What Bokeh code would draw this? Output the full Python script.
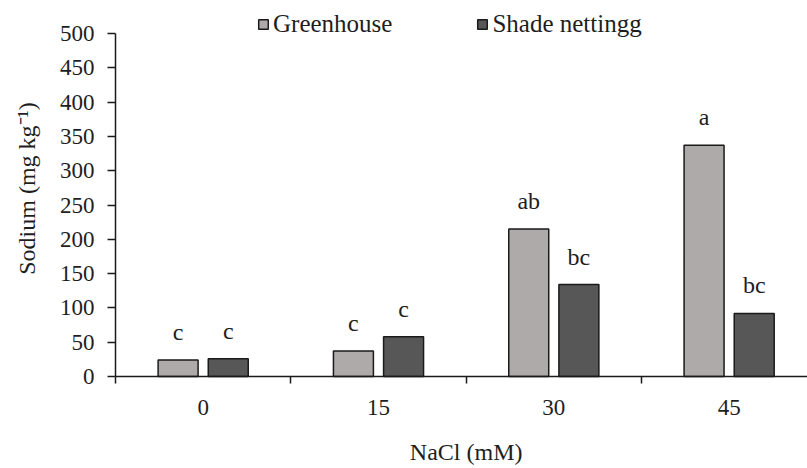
from bokeh.plotting import figure
from bokeh.models import ColumnDataSource, FixedTicker, Range1d, Legend, LegendItem
from bokeh.core.properties import value
from bokeh.embed import file_html
from bokeh.resources import INLINE
import math

categories = ["0", "15", "30", "45"]
greenhouse = [24, 37, 215, 337]
shade = [26, 58, 134, 92]
gh_letters = ["c", "c", "ab", "a"]
sh_letters = ["c", "c", "bc", "bc"]
y_ticks = [0, 50, 100, 150, 200, 250, 300, 350, 400, 450, 500]
x_title = "NaCl (mM)"
y_title = "Sodium (mg kg⁻¹)"

FONT = "Liberation Serif"
TXT = "#1e1e1e"
centers = [i + 0.5 for i in range(len(categories))]
dodge = 0.143
bw = 0.228
# ranges chosen so the axes (fixed at 0) sit where the reference puts them
X0, X1 = -0.656, 3.947
Y0, Y1 = -134.1, 548.1

src = ColumnDataSource(dict(
    xg=[c - dodge for c in centers], xs=[c + dodge for c in centers],
    gh=greenhouse, sh=shade, gl=gh_letters, sl=sh_letters,
))
xlab_src = ColumnDataSource(dict(x=centers, y=[0] * len(centers), t=categories))
ylab_src = ColumnDataSource(dict(x=[0] * len(y_ticks), y=y_ticks, t=[str(v) for v in y_ticks]))
xt_src = ColumnDataSource(dict(x=[len(categories) / 2], y=[0], t=[x_title]))
yt_src = ColumnDataSource(dict(x=[0], y=[Y1 / 2], t=[y_title]))

p = figure(width=807, height=468, output_backend="svg", toolbar_location=None,
           x_range=Range1d(X0, X1), y_range=Range1d(Y0, Y1),
           min_border_left=0, min_border_right=0, min_border_top=0, min_border_bottom=0)
p.outline_line_color = None
p.xgrid.visible = False
p.ygrid.visible = False

r1 = p.vbar(x="xg", top="gh", width=bw, source=src, fill_color="#aeaaa9",
            line_color="#1a1a1a", line_width=1.5)
r2 = p.vbar(x="xs", top="sh", width=bw, source=src, fill_color="#575757",
            line_color="#1a1a1a", line_width=1.5)

for xc, yc, lc in (("xg", "gh", "gl"), ("xs", "sh", "sl")):
    p.text(x=xc, y=yc, text=lc, source=src, text_align="center", text_baseline="alphabetic",
           y_offset=-28, text_font=value(FONT), text_font_size="24px", text_color=TXT)

# x axis (tick marks at category boundaries), fixed at y = 0
xa = p.xaxis[0]
xa.fixed_location = 0
xa.bounds = (0, X1)
xa.ticker = FixedTicker(ticks=centers, minor_ticks=[0, 1, 2, 3])
xa.major_label_text_font_size = "0px"
xa.major_label_text_alpha = 0
xa.major_label_standoff = 0
xa.major_tick_line_color = None
xa.major_tick_out = 0
xa.major_tick_in = 0
xa.minor_tick_in = 0
xa.minor_tick_out = 7
xa.minor_tick_line_color = "#1a1a1a"
xa.minor_tick_line_width = 1.5
xa.axis_line_color = "#1a1a1a"
xa.axis_line_width = 1.5

# y axis fixed at x = 0
ya = p.yaxis[0]
ya.fixed_location = 0
ya.ticker = FixedTicker(ticks=y_ticks, minor_ticks=[])
ya.bounds = (0, 500)
ya.major_label_text_font_size = "0px"
ya.major_label_text_alpha = 0
ya.major_label_standoff = 0
ya.major_tick_in = 0
ya.major_tick_out = 8
ya.major_tick_line_color = "#1a1a1a"
ya.major_tick_line_width = 1.5
ya.axis_line_color = "#1a1a1a"
ya.axis_line_width = 1.5

# tick labels and axis titles in serif, placed through the plot scales
p.text(x="x", y="y", text="t", source=xlab_src, y_offset=31, text_align="center",
       text_baseline="middle", text_font=value(FONT), text_font_size="23px", text_color=TXT)
p.text(x="x", y="y", text="t", source=ylab_src, x_offset=-21, text_align="right",
       text_baseline="middle", text_font=value(FONT), text_font_size="23px", text_color=TXT)
p.text(x="x", y="y", text="t", source=xt_src, y_offset=75, text_align="center",
       text_baseline="middle", text_font=value(FONT), text_font_size="24px", text_color=TXT)
p.text(x="x", y="y", text="t", source=yt_src, x_offset=-89, angle=math.pi / 2,
       text_align="center", text_baseline="middle",
       text_font=value(FONT), text_font_size="24px", text_color=TXT)

legend = Legend(items=[LegendItem(label="Greenhouse", renderers=[r1]),
                       LegendItem(label="Shade nettingg", renderers=[r2])],
                location=(257, 430), orientation="horizontal",
                glyph_width=12, glyph_height=12, label_standoff=4, spacing=84,
                padding=2, margin=0, border_line_color=None, background_fill_alpha=0,
                label_text_font=FONT, label_text_font_size="25px", label_text_color=TXT)
p.add_layout(legend)

open("out.html", "w").write(file_html(p, INLINE))
